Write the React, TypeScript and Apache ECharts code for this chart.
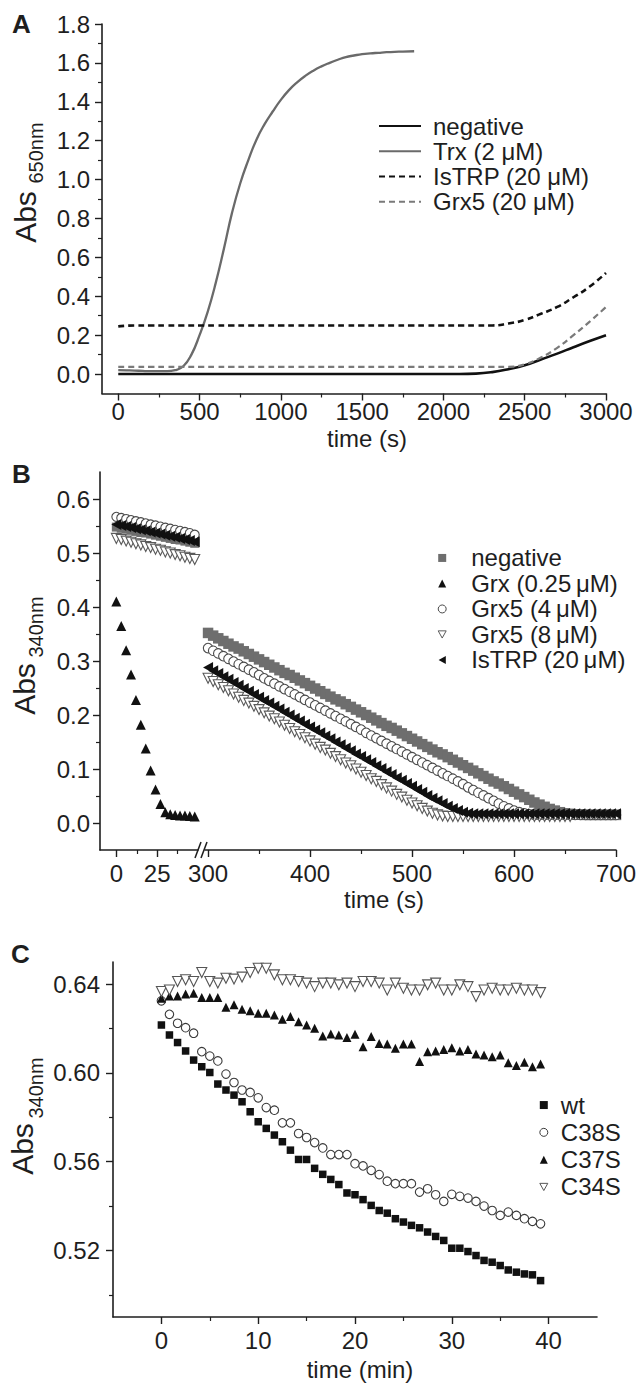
import React, { useEffect, useRef } from "react";
import * as echarts from "echarts";

const FONT = 'Arial, "Liberation Sans", Helvetica, sans-serif';
const INK = "#1e1e1e";

// ---------------- Panel A (Abs 650nm vs time, s) ----------------
const tA = [0, 100, 200, 300, 400, 500, 600, 700, 800, 900, 1000, 1100, 1200, 1300, 1400, 1500, 1600, 1700, 1800, 1900, 2000, 2100, 2200, 2300, 2400, 2500, 2600, 2700, 2800, 2900, 3000];
const negA = [0, 0, 0, 0, 0, 0, 0, 0, 0, 0, 0, 0, 0, 0, 0, 0, 0, 0, 0, 0, 0, 0, 0.002, 0.01, 0.025, 0.045, 0.075, 0.105, 0.138, 0.17, 0.2];
const istrpA = [0.245, 0.25, 0.25, 0.25, 0.25, 0.25, 0.25, 0.25, 0.25, 0.25, 0.25, 0.25, 0.25, 0.25, 0.25, 0.25, 0.25, 0.25, 0.25, 0.25, 0.25, 0.25, 0.25, 0.25, 0.26, 0.278, 0.31, 0.345, 0.395, 0.45, 0.52];
const grx5A = [0.037, 0.037, 0.037, 0.037, 0.037, 0.037, 0.037, 0.037, 0.037, 0.037, 0.037, 0.037, 0.037, 0.037, 0.037, 0.037, 0.037, 0.037, 0.037, 0.037, 0.037, 0.037, 0.037, 0.037, 0.037, 0.05, 0.085, 0.135, 0.2, 0.27, 0.345];
const tTrx = [0, 50, 100, 150, 200, 250, 300, 350, 400, 450, 500, 550, 600, 650, 700, 750, 800, 850, 900, 950, 1000, 1050, 1100, 1150, 1200, 1250, 1300, 1350, 1400, 1450, 1500, 1550, 1600, 1650, 1700, 1750, 1820];
const trxA = [0.02, 0.019, 0.018, 0.016, 0.015, 0.015, 0.015, 0.02, 0.04, 0.1, 0.2, 0.32, 0.47, 0.645, 0.83, 0.98, 1.1, 1.205, 1.285, 1.35, 1.41, 1.46, 1.5, 1.533, 1.56, 1.582, 1.6, 1.616, 1.63, 1.638, 1.645, 1.649, 1.652, 1.655, 1.657, 1.658, 1.66];
const aXMajor = [0, 500, 1000, 1500, 2000, 2500, 3000];
const aXMinor = [250, 750, 1250, 1750, 2250, 2750];
const aYMajor = [0, 0.2, 0.4, 0.6, 0.8, 1.0, 1.2, 1.4, 1.6, 1.8];
const aYMinor = [0.1, 0.3, 0.5, 0.7, 0.9, 1.1, 1.3, 1.5, 1.7];

// ---------------- Panel B (Abs 340nm vs time, s; broken axis) ----------------
const tBL = [0, 3, 6, 9, 12, 15, 18, 21, 24, 27, 30, 33, 36, 39, 42, 45, 48];
const negBL = [0.548, 0.546, 0.544, 0.542, 0.54, 0.538, 0.537, 0.535, 0.533, 0.531, 0.529, 0.527, 0.525, 0.524, 0.522, 0.52, 0.518];
const grxBL = [0.41, 0.365, 0.32, 0.275, 0.228, 0.182, 0.138, 0.097, 0.062, 0.035, 0.02, 0.016, 0.015, 0.014, 0.014, 0.013, 0.012];
const g4BL = [0.567, 0.565, 0.563, 0.561, 0.559, 0.557, 0.555, 0.553, 0.551, 0.549, 0.547, 0.545, 0.543, 0.541, 0.539, 0.537, 0.534];
const g8BL = [0.527, 0.525, 0.522, 0.52, 0.517, 0.515, 0.512, 0.51, 0.507, 0.505, 0.502, 0.5, 0.497, 0.495, 0.492, 0.49, 0.488];
const istBL = [0.553, 0.551, 0.549, 0.547, 0.545, 0.543, 0.541, 0.539, 0.537, 0.535, 0.533, 0.531, 0.529, 0.527, 0.525, 0.523, 0.521];

const tBR = [300, 305, 310, 315, 320, 325, 330, 335, 340, 345, 350, 355, 360, 365, 370, 375, 380, 385, 390, 395, 400, 405, 410, 415, 420, 425, 430, 435, 440, 445, 450, 455, 460, 465, 470, 475, 480, 485, 490, 495, 500, 505, 510, 515, 520, 525, 530, 535, 540, 545, 550, 555, 560, 565, 570, 575, 580, 585, 590, 595, 600, 605, 610, 615, 620, 625, 630, 635, 640, 645, 650, 655, 660, 665, 670, 675, 680, 685, 690, 695, 700];
const negBR = [0.352, 0.347, 0.342, 0.337, 0.332, 0.327, 0.323, 0.318, 0.313, 0.308, 0.303, 0.298, 0.293, 0.288, 0.283, 0.278, 0.274, 0.269, 0.264, 0.259, 0.254, 0.249, 0.244, 0.239, 0.234, 0.229, 0.225, 0.22, 0.215, 0.21, 0.205, 0.2, 0.195, 0.19, 0.185, 0.18, 0.176, 0.171, 0.166, 0.161, 0.156, 0.151, 0.146, 0.141, 0.136, 0.131, 0.127, 0.122, 0.117, 0.112, 0.107, 0.102, 0.097, 0.092, 0.087, 0.082, 0.077, 0.073, 0.068, 0.063, 0.058, 0.053, 0.048, 0.043, 0.038, 0.034, 0.03, 0.026, 0.023, 0.02, 0.018, 0.017, 0.016, 0.016, 0.015, 0.015, 0.015, 0.015, 0.015, 0.015, 0.015];
const g4BR = [0.324, 0.319, 0.314, 0.309, 0.304, 0.299, 0.294, 0.289, 0.284, 0.279, 0.274, 0.268, 0.263, 0.258, 0.253, 0.248, 0.243, 0.238, 0.233, 0.228, 0.223, 0.218, 0.213, 0.208, 0.203, 0.198, 0.193, 0.188, 0.183, 0.178, 0.173, 0.167, 0.162, 0.157, 0.152, 0.147, 0.142, 0.137, 0.132, 0.127, 0.122, 0.117, 0.112, 0.107, 0.102, 0.097, 0.092, 0.087, 0.082, 0.077, 0.072, 0.066, 0.061, 0.056, 0.051, 0.046, 0.041, 0.036, 0.031, 0.027, 0.023, 0.02, 0.018, 0.016, 0.015, 0.015, 0.015, 0.015, 0.015, 0.015, 0.015, 0.015, 0.015, 0.015, 0.015, 0.015, 0.015, 0.015, 0.015, 0.015, 0.015];
const istBR = [0.288, 0.282, 0.277, 0.271, 0.266, 0.26, 0.255, 0.249, 0.244, 0.238, 0.233, 0.227, 0.222, 0.216, 0.211, 0.205, 0.2, 0.194, 0.189, 0.183, 0.178, 0.172, 0.167, 0.161, 0.156, 0.15, 0.145, 0.139, 0.134, 0.128, 0.123, 0.117, 0.112, 0.106, 0.101, 0.095, 0.09, 0.084, 0.079, 0.073, 0.068, 0.062, 0.057, 0.051, 0.046, 0.041, 0.036, 0.031, 0.027, 0.023, 0.02, 0.018, 0.017, 0.017, 0.017, 0.017, 0.017, 0.017, 0.017, 0.017, 0.017, 0.017, 0.017, 0.017, 0.017, 0.017, 0.017, 0.017, 0.017, 0.017, 0.017, 0.017, 0.017, 0.017, 0.017, 0.017, 0.017, 0.017, 0.017, 0.017, 0.017];
const g8BR = [0.268, 0.262, 0.256, 0.251, 0.245, 0.239, 0.233, 0.227, 0.222, 0.216, 0.21, 0.204, 0.198, 0.193, 0.187, 0.181, 0.175, 0.169, 0.164, 0.158, 0.152, 0.146, 0.14, 0.135, 0.129, 0.123, 0.117, 0.111, 0.106, 0.1, 0.094, 0.088, 0.082, 0.077, 0.071, 0.065, 0.059, 0.053, 0.048, 0.042, 0.037, 0.032, 0.027, 0.022, 0.018, 0.015, 0.013, 0.012, 0.012, 0.012, 0.012, 0.012, 0.012, 0.012, 0.012, 0.012, 0.012, 0.012, 0.012, 0.012, 0.012, 0.012, 0.012, 0.012, 0.012, 0.012, 0.012, 0.012, 0.012, 0.012, 0.012, 0.012, null, null, null, null, null, null, null, null, null];
const bLXMajor = [0, 25];
const bLXMinor = [12.5, 37.5];
const bRXMajor = [300, 400, 500, 600, 700];
const bRXMinor = [350, 450, 550, 650];
const bYMajor = [0, 0.1, 0.2, 0.3, 0.4, 0.5, 0.6];
const bYMinor = [0.05, 0.15, 0.25, 0.35, 0.45, 0.55];

// ---------------- Panel C (Abs 340nm vs time, min) ----------------
const tC = [0, 0.83, 1.67, 2.5, 3.33, 4.17, 5, 5.83, 6.67, 7.5, 8.33, 9.17, 10, 10.83, 11.67, 12.5, 13.33, 14.17, 15, 15.83, 16.67, 17.5, 18.33, 19.17, 20, 20.83, 21.67, 22.5, 23.33, 24.17, 25, 25.83, 26.67, 27.5, 28.33, 29.17, 30, 30.83, 31.67, 32.5, 33.33, 34.17, 35, 35.83, 36.67, 37.5, 38.33, 39.17];
const wtC = [0.6216, 0.6171, 0.6137, 0.6099, 0.6058, 0.6028, 0.6002, 0.595, 0.5923, 0.59, 0.587, 0.5825, 0.578, 0.575, 0.572, 0.569, 0.5652, 0.561, 0.561, 0.557, 0.5543, 0.552, 0.5497, 0.5459, 0.5451, 0.5429, 0.5403, 0.538, 0.5368, 0.5343, 0.5328, 0.5313, 0.5302, 0.5283, 0.5263, 0.5245, 0.521, 0.521, 0.5195, 0.5177, 0.5155, 0.5147, 0.5132, 0.5112, 0.5102, 0.5094, 0.509, 0.5064];
const c38C = [0.6325, 0.6264, 0.6224, 0.6204, 0.6179, 0.6096, 0.6076, 0.6054, 0.5995, 0.5957, 0.5923, 0.5912, 0.5888, 0.5844, 0.5832, 0.5775, 0.5775, 0.5727, 0.5709, 0.5686, 0.5662, 0.5632, 0.5632, 0.5632, 0.5591, 0.5581, 0.5561, 0.5542, 0.5512, 0.5501, 0.5501, 0.5501, 0.5463, 0.5478, 0.5451, 0.5421, 0.5453, 0.5444, 0.5436, 0.5421, 0.54, 0.538, 0.5358, 0.5373, 0.5358, 0.5343, 0.5331, 0.532];
const c37C = [0.6337, 0.6347, 0.6347, 0.6356, 0.6359, 0.634, 0.634, 0.634, 0.6296, 0.6307, 0.6287, 0.628, 0.6269, 0.6269, 0.6261, 0.6242, 0.6254, 0.6231, 0.6216, 0.6201, 0.6167, 0.6176, 0.6171, 0.616, 0.6174, 0.6118, 0.6164, 0.6133, 0.613, 0.6111, 0.613, 0.613, 0.6051, 0.6096, 0.6099, 0.6106, 0.6114, 0.6099, 0.6106, 0.6085, 0.6081, 0.6073, 0.6081, 0.6046, 0.6033, 0.6048, 0.6028, 0.604];
const c34C = [0.6367, 0.6374, 0.6412, 0.642, 0.6412, 0.6453, 0.6412, 0.6405, 0.6427, 0.6423, 0.6432, 0.6453, 0.6472, 0.6472, 0.6442, 0.642, 0.642, 0.6412, 0.6405, 0.6389, 0.6405, 0.6405, 0.6397, 0.6405, 0.6389, 0.6412, 0.6412, 0.6405, 0.6374, 0.6405, 0.6382, 0.6374, 0.6374, 0.6397, 0.6405, 0.6374, 0.6374, 0.6397, 0.6389, 0.6344, 0.6374, 0.6382, 0.6374, 0.6374, 0.6382, 0.6374, 0.6374, 0.6362];
const cXMajor = [0, 10, 20, 30, 40];
const cXMinor = [5, 15, 25, 35];
const cYMajor = [0.52, 0.56, 0.6, 0.64];
const cYMinor = [0.5, 0.54, 0.58, 0.62];

// ---------------- legend labels ----------------
const LABELS: Record<string, string> = {
  A_neg: "negative",
  A_trx: "Trx (2 \u03bcM)",
  A_ist: "IsTRP (20 \u03bcM)",
  A_g5: "Grx5 (20 \u03bcM)",
  B_neg: "negative",
  B_grx: "Grx (0.25\u2009\u03bcM)",
  B_g4: "Grx5 (4\u2009\u03bcM)",
  B_g8: "Grx5 (8\u2009\u03bcM)",
  B_ist: "IsTRP (20\u2009\u03bcM)",
  C_wt: "wt",
  C_38: "C38S",
  C_37: "C37S",
  C_34: "C34S",
};

const zip = (xs: number[], ys: (number | null)[]) =>
  xs.map((x, i) => [x, ys[i]]).filter((p) => p[1] !== null && p[1] !== undefined);

const DOWN_TRI = "path://M0,0L10,0L5,9Z";
const LEFT_TRI = "path://M0,5L9,0L9,10Z";

function majorAxis(gridIndex: number, pos: string, min: number, max: number, ticks: number[], fmt: (v: number) => string, margin: number) {
  return {
    type: "value",
    gridIndex,
    position: pos,
    min,
    max,
    axisLine: { show: true, onZero: false, lineStyle: { color: INK, width: 1.6 } },
    axisTick: { show: true, customValues: ticks, length: 7, lineStyle: { color: INK, width: 1.4 } },
    axisLabel: { show: true, customValues: ticks, formatter: fmt, margin, color: INK, fontSize: 24, fontFamily: FONT },
    splitLine: { show: false },
    minorTick: { show: false },
  };
}
function minorAxis(gridIndex: number, pos: string, min: number, max: number, ticks: number[]) {
  return {
    type: "value",
    gridIndex,
    position: pos,
    offset: 0,
    min,
    max,
    axisLine: { show: false, onZero: false },
    axisTick: { show: true, customValues: ticks, length: 4, lineStyle: { color: INK, width: 1.2 } },
    axisLabel: { show: false },
    splitLine: { show: false },
  };
}

function txt(x: number, y: number, text: string, size: number, o: any = {}) {
  const align = o.align || "center";
  const va = o.va || "middle";
  return {
    type: "text",
    x,
    y,
    rotation: o.rot || 0,
    silent: true,
    z: 10,
    style: {
      text,
      font: `${o.bold ? "bold " : ""}${size}px ${FONT}`,
      fill: INK,
      align,
      verticalAlign: va,
      textAlign: align,
      textVerticalAlign: va,
    },
  };
}

function buildOption() {
  const grids = [
    { left: 102, top: 24, width: 504, height: 369.5 },
    { left: 100, top: 472, width: 98, height: 378 },
    { left: 205, top: 472, width: 411, height: 378 },
    { left: 113, top: 962, width: 484, height: 355 },
  ].map((g) => ({ ...g, containLabel: false, outerBoundsMode: "none", show: false }));

  const f0 = (v: number) => String(Math.round(v));
  const f1 = (v: number) => v.toFixed(1);
  const f2 = (v: number) => v.toFixed(2);

  const xAxis = [
    majorAxis(0, "bottom", -100, 3000, aXMajor, f0, 6),
    minorAxis(0, "bottom", -100, 3000, aXMinor),
    majorAxis(1, "bottom", -10, 50, bLXMajor, f0, 11),
    minorAxis(1, "bottom", -10, 50, bLXMinor),
    majorAxis(2, "bottom", 297, 700, bRXMajor, f0, 11),
    minorAxis(2, "bottom", 297, 700, bRXMinor),
    majorAxis(3, "bottom", -5, 45, cXMajor, f0, 11),
    minorAxis(3, "bottom", -5, 45, cXMinor),
  ];
  const yAxis = [
    majorAxis(0, "left", -0.1, 1.8, aYMajor, f1, 12),
    minorAxis(0, "left", -0.1, 1.8, aYMinor),
    majorAxis(1, "left", -0.05, 0.65, bYMajor, f1, 10),
    minorAxis(1, "left", -0.05, 0.65, bYMinor),
    { type: "value", gridIndex: 2, position: "left", min: -0.05, max: 0.65, show: false, splitLine: { show: false } },
    majorAxis(3, "left", 0.49, 0.65, cYMajor, f2, 13),
    minorAxis(3, "left", 0.49, 0.65, cYMinor),
  ];

  const line = (name: string, xs: number[], ys: number[], color: string, width: number, dash: any) => ({
    name,
    type: "line",
    xAxisIndex: 0,
    yAxisIndex: 0,
    data: zip(xs, ys),
    symbol: "none",
    showSymbol: false,
    smooth: 0.5,
    lineStyle: { color, width, type: dash, cap: "butt", join: "round" },
    itemStyle: { color },
    emphasis: { disabled: true },
    z: 3,
  });

  const sc = (name: string, xi: number, yi: number, xs: number[], ys: (number | null)[], symbol: string, size: any, style: any, z = 3) => ({
    name,
    type: "scatter",
    xAxisIndex: xi,
    yAxisIndex: yi,
    data: zip(xs, ys),
    symbol,
    symbolSize: size,
    itemStyle: { opacity: 1, ...style },
    emphasis: { disabled: true },
    clip: false,
    z,
  });

  const sNeg = { color: "#6e6e6e" };
  const sGrx = { color: "#111" };
  const sG4 = { color: "#fff", borderColor: "#4a4a4a", borderWidth: 1.1 };
  const sG8 = { color: "#fff", borderColor: "#5a5a5a", borderWidth: 1.1 };
  const sIst = { color: "#111" };

  const series = [
    line("A_neg", tA, negA, "#111", 2.6, "solid"),
    line("A_trx", tTrx, trxA, "#6a6a6a", 2.3, "solid"),
    line("A_ist", tA, istrpA, "#111", 2.6, [6, 4]),
    line("A_g5", tA, grx5A, "#7a7a7a", 2.2, [6, 4]),

    sc("B_neg", 2, 2, tBL, negBL, "rect", 9, sNeg, 2),
    sc("B_grx", 2, 2, tBL, grxBL, "triangle", 10, sGrx, 3),
    sc("B_g4", 2, 2, tBL, g4BL, "circle", 9, sG4, 3),
    sc("B_g8", 2, 2, tBL, g8BL, DOWN_TRI, 10, sG8, 3),
    sc("B_ist", 2, 2, tBL, istBL, LEFT_TRI, [10, 11], sIst, 4),

    sc("B_neg", 4, 4, tBR, negBR, "rect", 10.5, sNeg, 2),
    sc("B_g4", 4, 4, tBR, g4BR, "circle", 9.5, sG4, 3),
    sc("B_g8", 4, 4, tBR, g8BR, DOWN_TRI, 10, sG8, 3),
    sc("B_ist", 4, 4, tBR, istBR, LEFT_TRI, [10, 11], sIst, 4),

    sc("C_wt", 6, 5, tC, wtC, "rect", 7.5, { color: "#111" }),
    sc("C_38", 6, 5, tC, c38C, "circle", 8.5, { color: "#fff", borderColor: "#3a3a3a", borderWidth: 1.1 }),
    sc("C_37", 6, 5, tC, c37C, "triangle", 9, { color: "#111" }),
    sc("C_34", 6, 5, tC, c34C, DOWN_TRI, 10, { color: "#fff", borderColor: "#555", borderWidth: 1.1 }),
  ];

  const legTxt = (lh: number, padLeft: number) => ({
    color: INK,
    fontSize: 24,
    fontFamily: FONT,
    lineHeight: lh,
    padding: [0, 0, 0, padLeft],
  });
  const legendBase = { orient: "vertical", padding: 0, itemGap: 0, selectedMode: false, formatter: (n: string) => LABELS[n] ?? n };

  const legend = [
    {
      ...legendBase,
      left: 378,
      top: 113.5,
      itemWidth: 42,
      itemHeight: 10,
      textStyle: legTxt(25.2, 7),
      data: ["A_neg", "A_trx", "A_ist", "A_g5"].map((name) => ({ name, itemStyle: { opacity: 0 } })),
    },
    {
      ...legendBase,
      left: 437.7,
      top: 545.2,
      itemWidth: 8,
      itemHeight: 8,
      textStyle: legTxt(25.5, 20),
      data: [
        { name: "B_neg", itemStyle: { color: "#6e6e6e" } },
        { name: "B_grx", itemStyle: { color: "#111" } },
        { name: "B_g4", itemStyle: { color: "#fff", borderColor: "#4a4a4a", borderWidth: 1 } },
        { name: "B_g8", itemStyle: { color: "#fff", borderColor: "#5a5a5a", borderWidth: 1 } },
        { name: "B_ist", itemStyle: { color: "#111" } },
      ],
    },
    {
      ...legendBase,
      left: 539.3,
      top: 1091.4,
      itemWidth: 8,
      itemHeight: 8,
      textStyle: legTxt(27.3, 8),
      data: [
        { name: "C_wt", itemStyle: { color: "#111" } },
        { name: "C_38", itemStyle: { color: "#fff", borderColor: "#3a3a3a", borderWidth: 1 } },
        { name: "C_37", itemStyle: { color: "#111" } },
        { name: "C_34", itemStyle: { color: "#fff", borderColor: "#555", borderWidth: 1 } },
      ],
    },
  ];

  const R = Math.PI / 2;
  const graphic = [
    txt(12, 24, "A", 26, { bold: true, align: "left" }),
    txt(12, 474, "B", 26, { bold: true, align: "left" }),
    txt(11, 954, "C", 26, { bold: true, align: "left" }),

    txt(25.5, 217, "Abs", 30, { rot: R }),
    txt(36, 153, "650nm", 20, { rot: R }),
    txt(24.5, 689, "Abs", 30, { rot: R }),
    txt(36, 627, "340nm", 20, { rot: R }),
    txt(22, 1149, "Abs", 30, { rot: R }),
    txt(36, 1088, "340nm", 20, { rot: R }),

    txt(367, 438.5, "time (s)", 24),
    txt(384, 899, "time (s)", 24),
    txt(360, 1369, "time (min)", 24),

    { type: "line", silent: true, z: 10, shape: { x1: 195, y1: 858, x2: 201, y2: 842 }, style: { stroke: INK, lineWidth: 1.5 } },
    { type: "line", silent: true, z: 10, shape: { x1: 201, y1: 858, x2: 207, y2: 842 }, style: { stroke: INK, lineWidth: 1.5 } },
  ];

  return {
    animation: false,
    backgroundColor: "#ffffff",
    textStyle: { fontFamily: FONT },
    grid: grids,
    xAxis,
    yAxis,
    legend,
    series,
    graphic,
    tooltip: { show: false },
  };
}

export default function App() {
  const ref = useRef<HTMLDivElement>(null);
  useEffect(() => {
    document.body.style.margin = "0";
    const chart = echarts.init(ref.current as HTMLDivElement, null, { renderer: "svg", width: 640, height: 1388 });
    chart.setOption(buildOption() as any);
    return () => chart.dispose();
  }, []);
  return <div ref={ref} style={{ width: 640, height: 1388, background: "#fff" }} />;
}
